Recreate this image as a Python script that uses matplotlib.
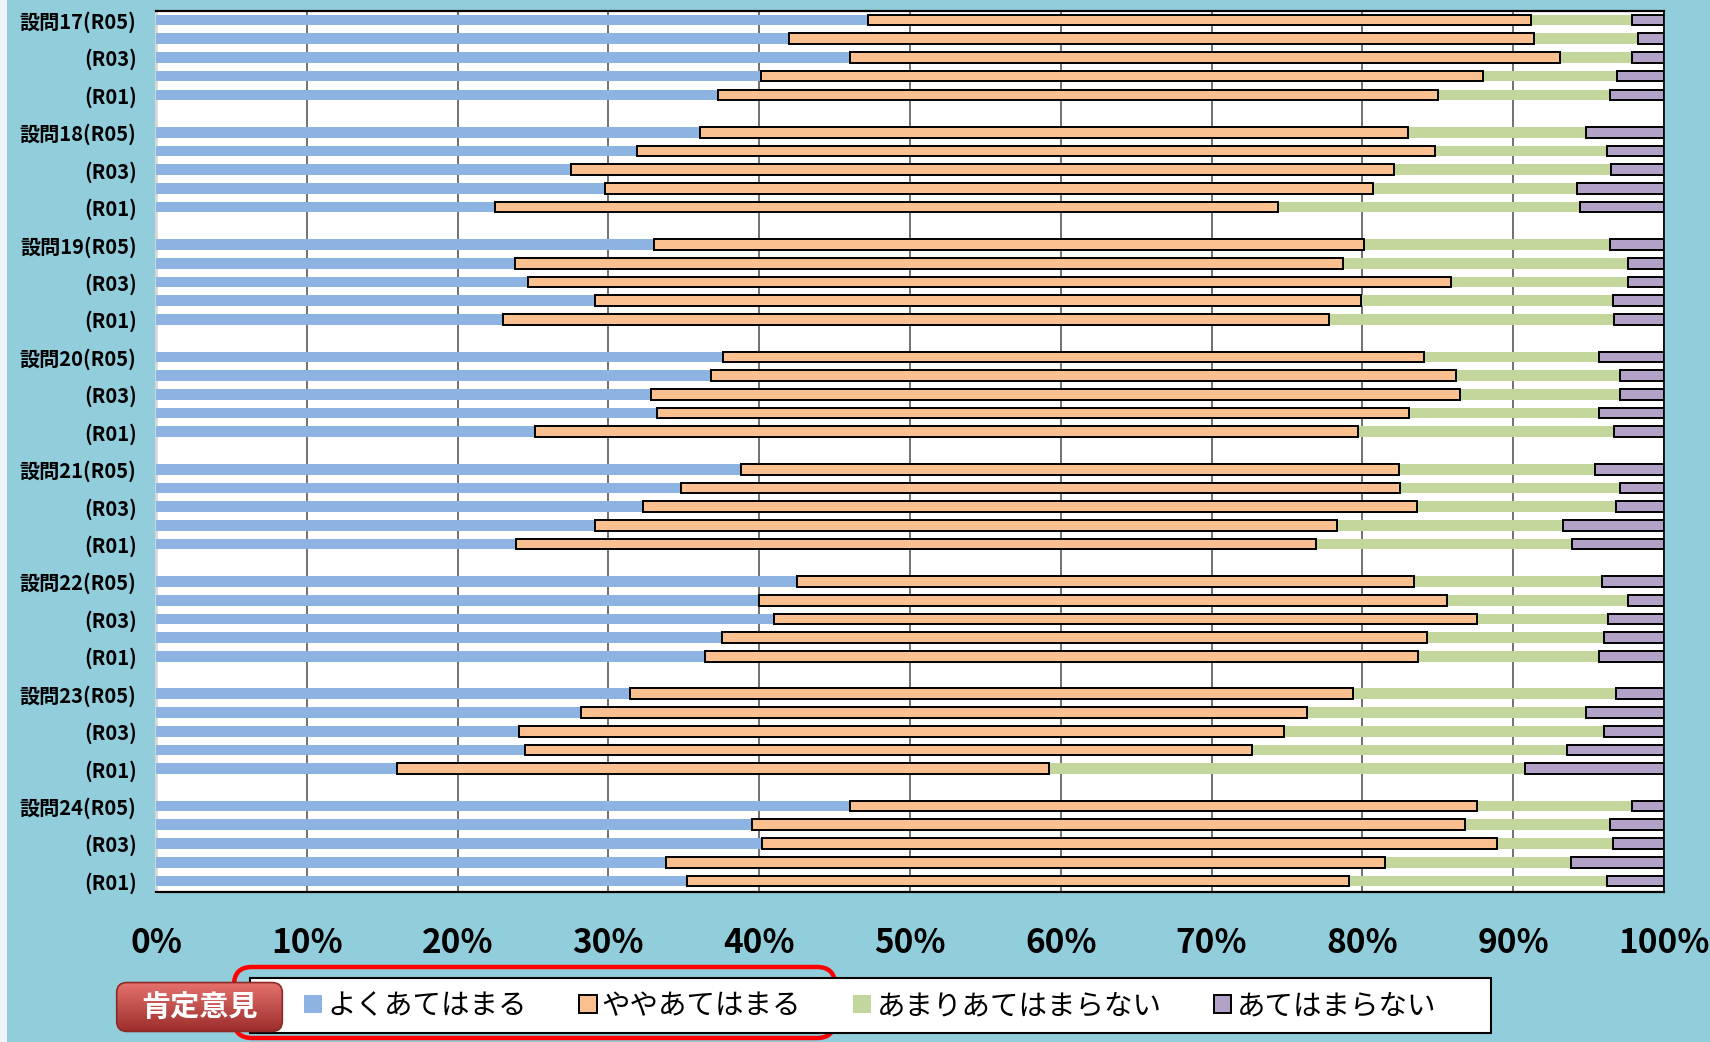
import numpy as np
import matplotlib
matplotlib.use('Agg')
import matplotlib.pyplot as plt
from matplotlib.patches import Patch, Rectangle, FancyBboxPatch
from matplotlib.colors import LinearSegmentedColormap
from matplotlib.transforms import IdentityTransform

plt.rcParams['font.family'] = ['Noto Sans CJK JP', 'DejaVu Sans']

questions = ['設問17', '設問18', '設問19', '設問20', '設問21', '設問22', '設問23', '設問24']
years = ['R05', 'R04', 'R03', 'R02', 'R01']
series_names = ['よくあてはまる', 'ややあてはまる', 'あまりあてはまらない', 'あてはまらない']

# shares in %, one row per question, values for R05, R04, R03, R02, R01
yoku = [[47.2, 42.0, 46.0, 40.1, 37.3],
        [36.1, 31.9, 27.5, 29.8, 22.5],
        [33.0, 23.8, 24.7, 29.1, 23.0],
        [37.6, 36.8, 32.8, 33.2, 25.1],
        [38.8, 34.8, 32.3, 29.1, 23.9],
        [42.5, 40.0, 41.0, 37.5, 36.4],
        [31.4, 28.2, 24.1, 24.5, 16.0],
        [46.0, 39.5, 40.2, 33.8, 35.2]]
yaya = [[44.0, 49.4, 47.1, 47.9, 47.7],
        [46.9, 52.9, 54.6, 50.9, 51.9],
        [47.1, 54.9, 61.2, 50.8, 54.8],
        [46.5, 49.4, 53.7, 49.9, 54.6],
        [43.6, 47.7, 51.3, 49.2, 53.0],
        [40.9, 45.6, 46.6, 46.8, 47.3],
        [48.0, 48.1, 50.7, 48.2, 43.2],
        [41.6, 47.3, 48.7, 47.7, 43.9]]
amari = [[6.7, 6.9, 4.8, 8.9, 11.4],
         [11.8, 11.4, 14.4, 13.5, 20.0],
         [16.3, 18.9, 11.7, 16.7, 18.9],
         [11.6, 10.9, 10.6, 12.6, 17.0],
         [13.0, 14.6, 13.2, 15.0, 17.0],
         [12.5, 12.0, 8.7, 11.7, 12.0],
         [17.4, 18.5, 21.2, 20.9, 31.6],
         [10.3, 9.6, 7.7, 12.3, 17.1]]
nai = [[2.1, 1.7, 2.1, 3.1, 3.6],
       [5.2, 3.8, 3.5, 5.8, 5.6],
       [3.6, 2.4, 2.4, 3.4, 3.3],
       [4.3, 2.9, 2.9, 4.3, 3.3],
       [4.6, 2.9, 3.2, 6.7, 6.1],
       [4.1, 2.4, 3.7, 4.0, 4.3],
       [3.2, 5.2, 4.0, 6.4, 9.2],
       [2.1, 3.6, 3.4, 6.2, 3.8]]

colors = ['#8DB3E2', '#FAC090', '#C3D69B', '#B3A2C7']
edges = [False, True, False, True]

W, H = 1710, 1042
fig = plt.figure(figsize=(W / 100, H / 100), dpi=100, facecolor='#92CDDC')
ax = fig.add_axes([156 / W, 1 - 892 / H, (1664 - 156) / W, (892 - 11) / H])

# five rows per question, one empty row between questions
ypos = []
ylabels = []
for g, q in enumerate(questions):
    for r, yr in enumerate(years):
        ypos.append(g * 6 + r)
        if r == 0:
            ylabels.append(f'{q}({yr})')
        elif r in (2, 4):
            ylabels.append(f'({yr})')
        else:
            ylabels.append('')
ypos = np.array(ypos)

left = np.zeros(len(ypos))
for vals, c, e in zip([yoku, yaya, amari, nai], colors, edges):
    v = np.array(vals).ravel()
    if e:
        ax.barh(ypos, v, left=left, height=0.57, color=c, edgecolor='black',
                linewidth=1.4, zorder=4)
    else:
        ax.barh(ypos, v, left=left, height=0.57, color=c, linewidth=0, zorder=3)
    left += v

ax.set_xlim(0, 100)
ax.set_ylim(46.59, -0.48)
ax.set_xticks(range(0, 101, 10))
ax.set_xticklabels([f'{v}%' for v in range(0, 101, 10)], fontsize=24, fontweight='bold')
ax.set_yticks(ypos)
ax.set_yticklabels(ylabels, fontsize=14.5, fontweight='bold')
ax.tick_params(axis='x', length=0, pad=25)
ax.tick_params(axis='y', length=0, pad=14)
ax.set_axisbelow(True)
ax.grid(axis='x', color='#595959', linewidth=1.2)
ax.set_facecolor('white')
ax.spines['top'].set_linewidth(1.6)
ax.spines['bottom'].set_linewidth(1.6)
ax.spines['right'].set_linewidth(1.2)
ax.spines['left'].set_color('#D9D9D9')
ax.spines['left'].set_linewidth(2)

# light strip at left edge
fig.patches.append(Rectangle((0, 0), 7, H, transform=IdentityTransform(),
                             facecolor='#EEF6F9', edgecolor='none', zorder=1))

# red rounded outline around the positive items
fig.patches.append(FancyBboxPatch((234, H - 1038), 601, 71,
                                  boxstyle='round,pad=0,rounding_size=18',
                                  transform=IdentityTransform(), facecolor='none',
                                  edgecolor='#FF0000', linewidth=3.2, zorder=1))

# legend frame
fig.patches.append(Rectangle((250, H - 1033), 1241, 55, transform=IdentityTransform(),
                             facecolor='white', edgecolor='black', linewidth=1.5, zorder=2))

handles = []
for c, e in zip(colors, edges):
    if e:
        handles.append(Patch(facecolor=c, edgecolor='black', linewidth=1.4))
    else:
        handles.append(Patch(facecolor=c, edgecolor='none'))
fig.legend(handles, series_names, loc='center left',
           bbox_to_anchor=(304 / W, 1 - 1006 / H), ncol=4, frameon=False,
           fontsize=20.5, handlelength=0.63, handleheight=0.63, handletextpad=0.18,
           columnspacing=1.83, borderpad=0, borderaxespad=0)

# red "肯定意見" button
bax = fig.add_axes([115 / W, (H - 1033) / H, 169 / W, 52 / H])
bax.set_zorder(10)
bax.axis('off')
cmap = LinearSegmentedColormap.from_list('btn', ['#E8736E', '#C0504D', '#9A2B28'])
grad = np.linspace(0, 1, 64)[:, None]
im = bax.imshow(grad, extent=(0, 1, 0, 1), aspect='auto', cmap=cmap, origin='upper')
box = FancyBboxPatch((0.01, 0.03), 0.98, 0.94, boxstyle='round,pad=0,rounding_size=0.06',
                     mutation_aspect=169 / 52, transform=bax.transAxes,
                     facecolor='none', edgecolor='#8C2A27', linewidth=1.2)
bax.add_patch(box)
im.set_clip_path(box)
bax.text(0.5, 0.5, '肯定意見', color='white', fontsize=21, fontweight='bold',
         ha='center', va='center', transform=bax.transAxes)

fig.savefig('out.png', dpi=100, facecolor=fig.get_facecolor())
